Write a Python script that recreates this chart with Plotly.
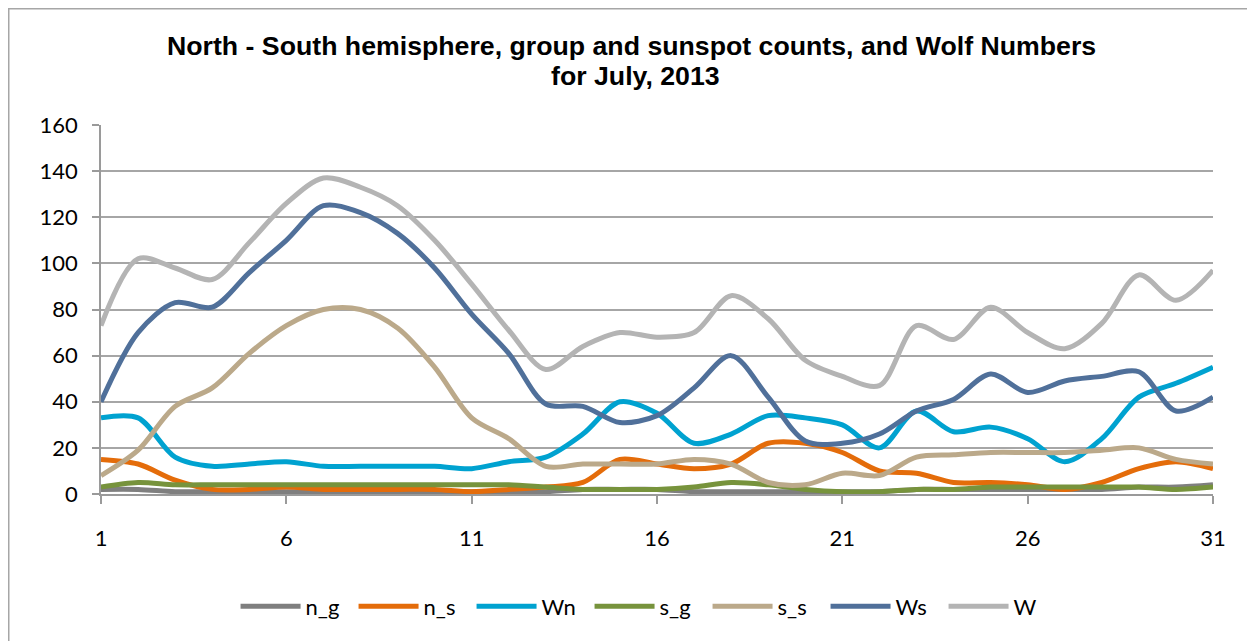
import plotly.graph_objects as go

days = list(range(1, 32))

n_g = [2, 2, 1, 1, 1, 1, 1, 1, 1, 1, 1, 1, 1, 2, 2, 2, 1, 1, 1, 1, 1, 1, 2, 2, 2, 2, 2, 2, 3, 3, 4]
n_s = [15, 13, 6, 2, 2, 3, 2, 2, 2, 2, 1, 2, 3, 5, 15, 13, 11, 13, 22, 22, 18, 10, 9, 5, 5, 4, 2, 5, 11, 14, 11]
Wn = [33, 33, 16, 12, 13, 14, 12, 12, 12, 12, 11, 14, 16, 26, 40, 35, 22, 26, 34, 33, 30, 20, 36, 27, 29, 24, 14, 24, 42, 48, 55]
s_g = [3, 5, 4, 4, 4, 4, 4, 4, 4, 4, 4, 4, 3, 2, 2, 2, 3, 5, 4, 2, 1, 1, 2, 2, 3, 3, 3, 3, 3, 2, 3]
s_s = [8, 19, 38, 46, 61, 73, 80, 80, 72, 55, 33, 24, 12, 13, 13, 13, 15, 13, 5, 4, 9, 8, 16, 17, 18, 18, 18, 19, 20, 15, 13]
Ws = [40, 70, 83, 81, 96, 110, 125, 122, 113, 98, 78, 61, 39, 38, 31, 34, 46, 60, 42, 23, 22, 26, 36, 41, 52, 44, 49, 51, 53, 36, 42]
W = [73, 102, 98, 93, 109, 126, 137, 133, 125, 110, 91, 71, 54, 64, 70, 68, 70, 86, 76, 58, 51, 47, 73, 67, 81, 70, 63, 74, 95, 84, 97]

series = [
    ("n_g", n_g, "#7F7F7F"),
    ("n_s", n_s, "#E46C0A"),
    ("Wn", Wn, "#00A2D0"),
    ("s_g", s_g, "#77933C"),
    ("s_s", s_s, "#BBA98A"),
    ("Ws", Ws, "#50709A"),
    ("W", W, "#B4B4B4"),
]

x_ticks = [1, 6, 11, 16, 21, 26, 31]
y_ticks = [0, 20, 40, 60, 80, 100, 120, 140, 160]

title_line1 = "North - South hemisphere, group and sunspot counts, and Wolf Numbers"
title_line2 = "for July, 2013"

fig = go.Figure()
for name, vals, color in series:
    fig.add_trace(go.Scatter(
        x=days, y=vals, name=name, mode="lines",
        line=dict(color=color, width=5, shape="spline", smoothing=0.9),
    ))

L, T, PW, PH = 93, 117, 1112, 369
title_font = dict(family="Liberation Sans", size=26.7, color="black", weight="bold")

fig.update_layout(
    width=1255, height=641,
    margin=dict(l=L, r=1255 - L - PW, t=T, b=641 - T - PH),
    paper_bgcolor="white", plot_bgcolor="white",
    font=dict(family="Lato", size=22, color="black"),
    showlegend=True,
    legend=dict(
        orientation="h", x=0.121, xanchor="left", y=-0.305, yanchor="middle",
        font=dict(family="Lato", size=22, color="black"),
        itemwidth=60, entrywidth=43, entrywidthmode="pixels",
    ),
    annotations=[
        dict(text=title_line1, xref="paper", yref="paper", x=0.4775, y=1 + (T - 38) / PH,
             xanchor="center", yanchor="middle", showarrow=False, font=title_font),
        dict(text=title_line2, xref="paper", yref="paper", x=0.481, y=1 + (T - 68) / PH,
             xanchor="center", yanchor="middle", showarrow=False, font=title_font),
    ],
    shapes=[dict(
        type="rect", xref="paper", yref="paper",
        x0=(0.5 - L) / PW, x1=1.2, y0=-0.6, y1=1 + (T - 0.5) / PH,
        line=dict(color="#A6A6A6", width=2), fillcolor="rgba(0,0,0,0)", layer="below",
    )],
)

fig.update_xaxes(
    range=[1, 31], tickvals=x_ticks, ticktext=[str(t) for t in x_ticks],
    showgrid=False, showline=True, linecolor="#9A9A9A", linewidth=1.5,
    ticks="outside", ticklen=8, tickcolor="#9A9A9A", tickwidth=1.5,
    ticklabelstandoff=16,
    zeroline=False, tickfont=dict(family="Lato", size=22),
)
fig.update_yaxes(
    range=[0, 160], tickvals=y_ticks, ticktext=[str(t) for t in y_ticks],
    showgrid=True, gridcolor="#A6A6A6", gridwidth=1.5,
    showline=True, linecolor="#9A9A9A", linewidth=1.5,
    ticks="outside", ticklen=7, tickcolor="#9A9A9A", tickwidth=1.5,
    ticklabelstandoff=10,
    zeroline=False, tickfont=dict(family="Lato", size=22),
)

fig.write_html("out.html")
